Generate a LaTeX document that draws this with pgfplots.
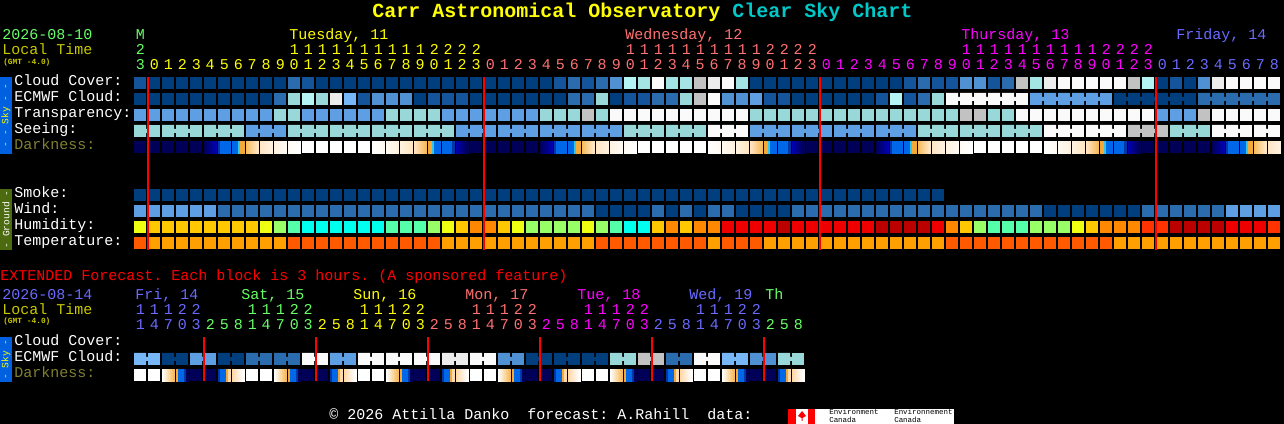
\documentclass[border=0pt]{standalone}
\usepackage{fontspec}
\setmainfont{Liberation Mono}
\usepackage{pgfplots}
\pgfplotsset{compat=1.18}

% cloud / transparency / seeing colours
\definecolor{ca}{HTML}{003E7E}
\definecolor{cb}{HTML}{13549A}
\definecolor{cc}{HTML}{2A6CAE}
\definecolor{cd}{HTML}{4F91D3}
\definecolor{ce}{HTML}{5E9FE3}
\definecolor{cf}{HTML}{77B7F7}
\definecolor{cg}{HTML}{98D8D8}
\definecolor{ch}{HTML}{A4E4E4}
\definecolor{cl}{HTML}{B4F4F4}
\definecolor{ci}{HTML}{C2C2C2}
\definecolor{cj}{HTML}{ECECEC}
\definecolor{ck}{HTML}{FAFAFA}
% humidity / temperature
\definecolor{hy}{HTML}{EEFF11}
\definecolor{hA}{HTML}{FFC800}
\definecolor{hO}{HTML}{FF8800}
\definecolor{hG}{HTML}{99FF66}
\definecolor{hM}{HTML}{55FFAA}
\definecolor{hC}{HTML}{00FFEE}
\definecolor{hR}{HTML}{FF3300}
\definecolor{hD}{HTML}{EE0000}
\definecolor{hK}{HTML}{BB0000}
\definecolor{tR}{HTML}{FF5A00}
\definecolor{tT}{HTML}{FFA000}
% text
\definecolor{dgreen}{HTML}{66FF66}
\definecolor{dyellow}{HTML}{FFFF00}
\definecolor{dsalmon}{HTML}{FF7070}
\definecolor{dmag}{HTML}{FF00FF}
\definecolor{dperi}{HTML}{6A6AFF}
\definecolor{dred}{HTML}{FF0000}
\definecolor{dlocal}{HTML}{C8C800}
\definecolor{dolive}{HTML}{808030}
\definecolor{dcyan}{HTML}{00C8C8}
\definecolor{sideblue}{HTML}{0060E0}
\definecolor{sideolive}{HTML}{4C6A10}
% darkness
\definecolor{nv}{HTML}{000058}
\definecolor{nvb}{HTML}{0000B0}
\definecolor{dkb}{HTML}{0038A8}
\definecolor{bl}{HTML}{0068E8}
\definecolor{cy}{HTML}{30C8E8}
\definecolor{org}{HTML}{F4A838}
\definecolor{org2}{HTML}{F8BC60}
\definecolor{org3}{HTML}{FFD8A8}
\definecolor{cr1}{HTML}{FFE6C4}
\definecolor{cr2}{HTML}{FFF2E0}
\definecolor{cr3}{HTML}{FFFAF4}
\definecolor{pureW}{HTML}{FFFFFF}

% a block is 12 px wide, 1 px = .75 pt
\pgfdeclareplotmark{cell}{\pgfpathrectangle{\pgfpoint{-4.5pt}{-4.5pt}}{\pgfpoint{9pt}{9pt}}\pgfusepathqfill}
\pgfdeclareplotmark{cellj}{\pgfpathrectangle{\pgfpoint{-4.5pt}{-4.5pt}}{\pgfpoint{9pt}{9pt}}\pgfpathrectangle{\pgfpoint{4.5pt}{-1.5pt}}{\pgfpoint{1.5pt}{3pt}}\pgfusepathqfill}
% \fill inside a mark comes out a bit larger than the plain blocks
\tikzset{stp/.style={scale=.965}}
% twilight blocks: 12 one-pixel slices, \shade comes out too small under xdvipdfmx
\newcommand\gradmark[3]{\pgfdeclareplotmark{#1}{\foreach \i in {0,...,11}{\pgfmathtruncatemacro\p{100*\i/11}\fill[stp,#3!\p!#2] ({-4.5pt+\i*0.75pt},-4.5pt) rectangle ({-3.7pt+\i*0.75pt},4.5pt);}}}
\gradmark{dm}{nv}{nvb}
\gradmark{dM}{nvb}{nv}
\gradmark{do}{org2}{cr1}
\gradmark{dO}{cr1}{org2}
\gradmark{dp}{cr1}{cr2}
\gradmark{dP}{cr2}{cr1}
\gradmark{dq}{cr2}{cr3}
\gradmark{dQ}{cr3}{cr2}
\gradmark{dr}{cr3}{pureW}
\gradmark{dR}{pureW}{cr3}
\gradmark{dD}{pureW}{org2}
\gradmark{dG}{org3}{pureW}
% striped blocks, left to right
\pgfdeclareplotmark{dt}{\fill[stp,bl] (-4.5pt,-4.5pt) rectangle (0pt,4.5pt);\fill[stp,cy] (0pt,-4.5pt) rectangle (1.5pt,4.5pt);\fill[stp,org] (1.5pt,-4.5pt) rectangle (4.5pt,4.5pt);}
\pgfdeclareplotmark{dT}{\fill[stp,org] (-4.5pt,-4.5pt) rectangle (-1.5pt,4.5pt);\fill[stp,cy] (-1.5pt,-4.5pt) rectangle (0pt,4.5pt);\fill[stp,bl] (0pt,-4.5pt) rectangle (4.5pt,4.5pt);}
\pgfdeclareplotmark{db}{\fill[stp,dkb] (-4.5pt,-4.5pt) rectangle (-3pt,4.5pt);\fill[stp,bl] (-3pt,-4.5pt) rectangle (4.5pt,4.5pt);}
\pgfdeclareplotmark{dB}{\fill[stp,bl] (-4.5pt,-4.5pt) rectangle (3pt,4.5pt);\fill[stp,dkb] (3pt,-4.5pt) rectangle (4.5pt,4.5pt);}
\pgfdeclareplotmark{dE}{\fill[stp,org] (-4.5pt,-4.5pt) rectangle (-3pt,4.5pt);\fill[stp,bl] (-3pt,-4.5pt) rectangle (1.5pt,4.5pt);\fill[stp,dkb] (1.5pt,-4.5pt) rectangle (3pt,4.5pt);\fill[stp,nv] (3pt,-4.5pt) rectangle (4.5pt,4.5pt);}
\pgfdeclareplotmark{dF}{\fill[stp,dkb] (-4.5pt,-4.5pt) rectangle (-3pt,4.5pt);\fill[stp,bl] (-3pt,-4.5pt) rectangle (1.5pt,4.5pt);\fill[stp,org] (1.5pt,-4.5pt) rectangle (3pt,4.5pt);\fill[stp,org3] (3pt,-4.5pt) rectangle (4.5pt,4.5pt);}

\pgfplotsset{
  blockrow/.style={scatter,only marks,scatter src=explicit symbolic},
  sky/.style={blockrow,scatter/classes={
    a={mark=cell,ca},b={mark=cell,cb},c={mark=cell,cc},d={mark=cell,cd},e={mark=cell,ce},f={mark=cell,cf},
    g={mark=cell,cg},h={mark=cell,ch},l={mark=cell,cl},i={mark=cell,ci},j={mark=cell,cj},k={mark=cell,ck},
    A={mark=cellj,ca},C={mark=cellj,cc},D={mark=cellj,cd},E={mark=cellj,ce},F={mark=cellj,cf},
    G={mark=cellj,cg},I={mark=cellj,ci},J={mark=cellj,cj},K={mark=cellj,ck}}},
  humid/.style={blockrow,scatter/classes={
    y={mark=cell,hy},A={mark=cell,hA},O={mark=cell,hO},G={mark=cell,hG},M={mark=cell,hM},
    C={mark=cell,hC},R={mark=cell,hR},D={mark=cell,hD},K={mark=cell,hK},
    r={mark=cell,tR},t={mark=cell,tT}}},
  dark/.style={blockrow,scatter/classes={
    n={mark=cell,nv},w={mark=cell,pureW},m={mark=dm},M={mark=dM},b={mark=db},B={mark=dB},
    t={mark=dt},T={mark=dT},o={mark=do},O={mark=dO},p={mark=dp},P={mark=dP},q={mark=dq},Q={mark=dQ},
    r={mark=dr},R={mark=dR},D={mark=dD},E={mark=dE},F={mark=dF},G={mark=dG}}},
  midnight/.style={on layer=axis foreground,dred,line width=1.5pt},
  /pgfplots/table/main/.style={row sep=\\,x expr=\coordindex*14+140,meta=c},
  /tikz/txt/.style={anchor=base west,inner sep=0pt,font=\fontsize{11.25pt}{13pt}\selectfont},
  /tikz/side/.style={rotate=90,inner sep=0pt,font=\fontsize{7.2pt}{8pt}\selectfont},
  /tikz/ttl/.style={anchor=base west,inner sep=0pt,font=\fontsize{15pt}{18pt}\selectfont\bfseries},
  /tikz/tiny/.style={anchor=base west,inner sep=0pt,font=\fontsize{5.9pt}{7pt}\selectfont\bfseries},
  /tikz/logo/.style={anchor=base west,inner sep=0pt,font=\fontsize{5.6pt}{6pt}\selectfont,text=black}
}

\makeatletter
\newcommand\hrs[1]{\@tfor\c:=#1\do{\makebox[10.5pt][c]{\c}}}
\makeatother

\begin{document}
\frenchspacing
\begin{tikzpicture}
\begin{axis}[
    width=963pt,height=318pt,scale only axis,
    xmin=0,xmax=1284,ymin=0,ymax=424,y dir=reverse,
    ticks=none,axis line style={draw=none},
    axis background/.style={fill=black},
    set layers=standard,
]
% Cloud Cover
\addplot[sky] table[main,y expr=83] {c\\ b\\ a\\ a\\ a\\ a\\ a\\ a\\ a\\ a\\ a\\ a\\ c\\ b\\ a\\ a\\ a\\ a\\ a\\ a\\ a\\ a\\
 a\\ a\\ a\\ a\\ a\\ a\\ a\\ a\\ a\\ b\\ c\\ b\\ c\\ d\\ l\\ h\\ k\\ h\\ h\\ i\\ j\\ k\\ h\\
 a\\ a\\ a\\ a\\ a\\ a\\ a\\ a\\ a\\ a\\ a\\ b\\ c\\ b\\ b\\ d\\ d\\ b\\ c\\ i\\ h\\ j\\
 k\\ k\\ k\\ k\\ k\\ i\\ l\\ a\\ b\\ a\\ d\\ j\\ k\\ k\\ k\\ k\\ };
% ECMWF Cloud
\addplot[sky] table[main,y expr=99] {c\\ a\\ a\\ a\\ a\\ a\\ a\\ a\\ a\\ a\\ a\\ c\\ g\\ l\\ g\\ j\\ f\\ b\\ d\\ d\\ d\\ a\\
 b\\ b\\ b\\ a\\ a\\ a\\ a\\ a\\ a\\ a\\ c\\ c\\ g\\ a\\ b\\ b\\ c\\ c\\ g\\ i\\ k\\ d\\ d\\ e\\ b\\ b\\ a\\ a\\ a\\ a\\ a\\
 a\\ b\\ l\\ b\\ c\\ g\\
 K\\ K\\ K\\ K\\ K\\ k\\ E\\ E\\ E\\ E\\ E\\ e\\ A\\ A\\ A\\ A\\ A\\ a\\ C\\ C\\ C\\ C\\ C\\ c\\ };
% Transparency
\addplot[sky] table[main,y expr=115] {c\\ e\\ e\\ e\\ e\\ e\\ e\\ e\\ e\\ e\\ e\\ g\\ g\\ e\\ e\\ e\\ e\\ e\\ e\\ g\\ g\\ g\\
 g\\ e\\ e\\ e\\ e\\ e\\ e\\ e\\ g\\ g\\ g\\ i\\ g\\ k\\ k\\ k\\ k\\ k\\ k\\ k\\ k\\ k\\ k\\ g\\ g\\ g\\ g\\ g\\ g\\ g\\ g\\
 g\\ g\\ g\\ g\\ g\\ g\\ g\\ i\\ i\\ g\\ g\\ k\\ k\\ k\\ k\\ k\\ k\\ k\\ k\\ k\\ k\\ e\\ e\\ e\\ i\\ k\\ k\\ k\\ k\\ k\\ };
% Seeing
\addplot[sky] table[main,y expr=131] {c\\ G\\ g\\ G\\ G\\ g\\ G\\ G\\ g\\ E\\ E\\ e\\ G\\ G\\ g\\ G\\ G\\ g\\ G\\ G\\ g\\
 G\\ G\\ g\\ E\\ E\\ e\\ E\\ E\\ e\\ E\\ E\\ e\\ E\\ E\\ e\\ G\\ G\\ g\\ G\\ G\\ g\\ K\\ K\\ k\\
 E\\ E\\ e\\ E\\ E\\ e\\ E\\ E\\ e\\ E\\ E\\ e\\ G\\ G\\ g\\ G\\ G\\ g\\ G\\ G\\ g\\ K\\ K\\ k\\ K\\ K\\ k\\
 I\\ I\\ i\\ G\\ G\\ g\\ K\\ K\\ k\\ K\\ k\\ };
% Darkness
\addplot[dark] table[main,y expr=147] {c\\
 n\\ n\\ n\\ n\\ n\\ m\\ b\\ t\\ o\\ p\\ q\\ r\\ w\\ w\\ w\\ w\\ w\\ R\\ Q\\ P\\ O\\ T\\ B\\ M\\
 n\\ n\\ n\\ n\\ n\\ m\\ b\\ t\\ o\\ p\\ q\\ r\\ w\\ w\\ w\\ w\\ w\\ R\\ Q\\ P\\ O\\ T\\ B\\ M\\
 n\\ n\\ n\\ n\\ n\\ m\\ b\\ t\\ o\\ p\\ q\\ r\\ w\\ w\\ w\\ w\\ w\\ R\\ Q\\ P\\ O\\ T\\ B\\ M\\
 n\\ n\\ n\\ n\\ n\\ m\\ b\\ t\\ o\\ p\\ };
% Smoke
\addplot[sky] table[main,y expr=195] {c\\ a\\ a\\ a\\ a\\ a\\ a\\ a\\ a\\ a\\ a\\ a\\ a\\ a\\ a\\ a\\ a\\ a\\ a\\ a\\ a\\ a\\ a\\ a\\ a\\
 a\\ a\\ a\\ a\\ a\\ a\\ a\\ a\\ a\\ a\\ a\\ a\\ a\\ a\\ a\\ a\\ a\\ a\\ a\\ a\\ a\\ a\\ a\\ a\\ a\\ a\\ a\\ a\\ a\\ a\\ a\\ a\\ a\\ a\\ };
% Wind
\addplot[sky] table[main,y expr=211] {c\\ e\\ e\\ e\\ e\\ e\\ e\\ c\\ c\\ c\\ c\\ c\\ c\\ c\\ c\\ c\\ c\\ c\\ c\\ c\\ c\\ c\\
 c\\ c\\ c\\ c\\ c\\ c\\ c\\ c\\ c\\ c\\ c\\ c\\ a\\ a\\ a\\ a\\ c\\ a\\ c\\ a\\ c\\ c\\ a\\ a\\ a\\ a\\ c\\ c\\ c\\ c\\ c\\
 c\\ c\\ c\\ c\\ c\\ c\\ c\\ c\\ c\\ c\\ c\\ c\\ c\\ a\\ a\\ a\\ a\\ a\\ a\\ a\\ c\\ c\\ c\\ c\\ c\\ c\\ e\\ e\\ e\\ e\\ };
% Humidity
\addplot[humid] table[main,y expr=227] {c\\ y\\ A\\ A\\ A\\ A\\ A\\ A\\ A\\ A\\ y\\ G\\ M\\ C\\ C\\ C\\ C\\ C\\ C\\ M\\ M\\ M\\
 G\\ y\\ A\\ O\\ O\\ A\\ y\\ G\\ G\\ G\\ G\\ y\\ G\\ M\\ C\\ C\\ A\\ O\\ A\\ O\\ O\\ D\\ D\\ D\\ D\\ K\\ D\\ D\\ D\\ D\\ D\\
 D\\ K\\ K\\ K\\ K\\ D\\ O\\ A\\ G\\ M\\ M\\ M\\ G\\ G\\ G\\ y\\ A\\ O\\ O\\ O\\ R\\ R\\ K\\ K\\ K\\ K\\ D\\ D\\ D\\ R\\ };
% Temperature
\addplot[humid] table[main,y expr=243] {c\\ r\\ t\\ t\\ t\\ t\\ t\\ t\\ t\\ t\\ t\\ t\\ r\\ r\\ r\\ r\\ r\\ r\\ r\\ r\\ r\\ r\\
 r\\ t\\ t\\ t\\ t\\ t\\ t\\ t\\ t\\ t\\ t\\ t\\ r\\ r\\ r\\ r\\ r\\ r\\ r\\ r\\ t\\ r\\ r\\ r\\ t\\ t\\ t\\ t\\ t\\ t\\
 t\\ t\\ t\\ t\\ t\\ t\\ t\\ r\\ r\\ r\\ r\\ r\\ r\\ r\\ r\\ r\\ r\\ r\\ r\\ t\\ t\\ t\\ t\\ t\\ t\\ t\\ t\\ t\\ t\\ t\\ t\\ };
% Extended forecast
\addplot[sky] table[main,y expr=359] {c\\ F\\ f\\ A\\ a\\ E\\ e\\ A\\ a\\ C\\ c\\ C\\ c\\ K\\ k\\ E\\ e\\ K\\ k\\ K\\ k\\ K\\ k\\
 J\\ j\\ K\\ k\\ D\\ d\\ A\\ a\\ A\\ a\\ A\\ a\\ G\\ g\\ I\\ i\\ C\\ c\\ K\\ k\\ F\\ f\\ D\\ d\\ G\\ g\\ };
\addplot[dark] table[main,y expr=375] {c\\
 w\\ w\\ D\\ E\\ n\\ n\\ F\\ G\\ w\\ w\\ D\\ E\\ n\\ n\\ F\\ G\\ w\\ w\\ D\\ E\\ n\\ n\\ F\\ G\\
 w\\ w\\ D\\ E\\ n\\ n\\ F\\ G\\ w\\ w\\ D\\ E\\ n\\ n\\ F\\ G\\ w\\ w\\ D\\ E\\ n\\ n\\ F\\ G\\ };
% midnight lines
\addplot[midnight] coordinates {(148,77) (148,250)};
\addplot[midnight] coordinates {(484,77) (484,250)};
\addplot[midnight] coordinates {(820,77) (820,250)};
\addplot[midnight] coordinates {(1156,77) (1156,250)};
\addplot[midnight] coordinates {(204,337) (204,381)};
\addplot[midnight] coordinates {(316,337) (316,381)};
\addplot[midnight] coordinates {(428,337) (428,381)};
\addplot[midnight] coordinates {(540,337) (540,381)};
\addplot[midnight] coordinates {(652,337) (652,381)};
\addplot[midnight] coordinates {(764,337) (764,381)};

% title
\node[ttl,text=dyellow] at (axis cs:372,18) {Carr Astronomical Observatory};
\node[ttl,text=dcyan] at (axis cs:732,18) {Clear Sky Chart};

% header
\node[txt,text=dgreen] at (axis cs:2,40) {2026-08-10};
\node[txt,text=dlocal] at (axis cs:2,55) {Local Time};
\node[tiny,text=dlocal] at (axis cs:3,65) {(GMT -4.0)};
\node[txt,text=dgreen] at (axis cs:133,40) {\hrs{M}};
\node[txt,text=dyellow] at (axis cs:289,40) {Tuesday, 11};
\node[txt,text=dsalmon] at (axis cs:625,40) {Wednesday, 12};
\node[txt,text=dmag] at (axis cs:961,40) {Thursday, 13};
\node[txt,text=dperi] at (axis cs:1176,40) {Friday, 14};
\node[txt,text=dgreen] at (axis cs:133,55) {\hrs{2}};
\node[txt,text=dyellow] at (axis cs:287,55) {\hrs{11111111112222}};
\node[txt,text=dsalmon] at (axis cs:623,55) {\hrs{11111111112222}};
\node[txt,text=dmag] at (axis cs:959,55) {\hrs{11111111112222}};
\node[txt,text=dgreen] at (axis cs:133,70) {\hrs{3}};
\node[txt,text=dyellow] at (axis cs:147,70) {\hrs{012345678901234567890123}};
\node[txt,text=dsalmon] at (axis cs:483,70) {\hrs{012345678901234567890123}};
\node[txt,text=dmag] at (axis cs:819,70) {\hrs{012345678901234567890123}};
\node[txt,text=dperi] at (axis cs:1155,70) {\hrs{012345678}};

% row labels
\node[txt,text=white] at (axis cs:14,86) {Cloud Cover:};
\node[txt,text=white] at (axis cs:14,102) {ECMWF Cloud:};
\node[txt,text=white] at (axis cs:14,118) {Transparency:};
\node[txt,text=white] at (axis cs:14,134) {Seeing:};
\node[txt,text=dolive] at (axis cs:14,150) {Darkness:};
\node[txt,text=white] at (axis cs:14,198) {Smoke:};
\node[txt,text=white] at (axis cs:14,214) {Wind:};
\node[txt,text=white] at (axis cs:14,230) {Humidity:};
\node[txt,text=white] at (axis cs:14,246) {Temperature:};

% side bars
\fill[sideblue] (axis cs:0,77) rectangle (axis cs:12,154);
\node[side,text=dyellow] at (axis cs:6,115.5) {- - Sky - -};
\fill[sideolive] (axis cs:0,189) rectangle (axis cs:12,250);
\node[side,text=white] at (axis cs:6,219.5) {- Ground -};
\fill[sideblue] (axis cs:0,337) rectangle (axis cs:12,382);
\node[side,text=dyellow] at (axis cs:6,359.5) {- Sky -};

% extended header
\node[txt,text=dred] at (axis cs:0,281) {EXTENDED Forecast. Each block is 3 hours. (A sponsored feature)};
\node[txt,text=dperi] at (axis cs:2,300) {2026-08-14};
\node[txt,text=dlocal] at (axis cs:2,315) {Local Time};
\node[tiny,text=dlocal] at (axis cs:3,324) {(GMT -4.0)};
\node[txt,text=dperi] at (axis cs:135,300) {Fri, 14};
\node[txt,text=dgreen] at (axis cs:241,300) {Sat, 15};
\node[txt,text=dyellow] at (axis cs:353,300) {Sun, 16};
\node[txt,text=dsalmon] at (axis cs:465,300) {Mon, 17};
\node[txt,text=dmag] at (axis cs:577,300) {Tue, 18};
\node[txt,text=dperi] at (axis cs:689,300) {Wed, 19};
\node[txt,text=dgreen] at (axis cs:765,300) {Th};
\node[txt,text=dperi] at (axis cs:133,315) {\hrs{11122}};
\node[txt,text=dgreen] at (axis cs:245,315) {\hrs{11122}};
\node[txt,text=dyellow] at (axis cs:357,315) {\hrs{11122}};
\node[txt,text=dsalmon] at (axis cs:469,315) {\hrs{11122}};
\node[txt,text=dmag] at (axis cs:581,315) {\hrs{11122}};
\node[txt,text=dperi] at (axis cs:693,315) {\hrs{11122}};
\node[txt,text=dperi] at (axis cs:133,330) {\hrs{14703}};
\node[txt,text=dgreen] at (axis cs:203,330) {\hrs{25814703}};
\node[txt,text=dyellow] at (axis cs:315,330) {\hrs{25814703}};
\node[txt,text=dsalmon] at (axis cs:427,330) {\hrs{25814703}};
\node[txt,text=dmag] at (axis cs:539,330) {\hrs{25814703}};
\node[txt,text=dperi] at (axis cs:651,330) {\hrs{25814703}};
\node[txt,text=dgreen] at (axis cs:763,330) {\hrs{258}};
\node[txt,text=white] at (axis cs:14,346) {Cloud Cover:};
\node[txt,text=white] at (axis cs:14,362) {ECMWF Cloud:};
\node[txt,text=dolive] at (axis cs:14,378) {Darkness:};

% footer
\node[txt,text=white] at (axis cs:329,420) {©~2026~Attilla~Danko~~forecast:~A.Rahill~~data:};
\fill[white] (axis cs:788,409) rectangle (axis cs:954,424);
\fill[dred] (axis cs:788,409) rectangle (axis cs:796,424);
\fill[dred] (axis cs:808,409) rectangle (axis cs:815,424);
\fill[dred] (axis cs:802,411) -- (axis cs:806,416) -- (axis cs:802.5,418) -- (axis cs:802.5,421) -- (axis cs:801.5,421) -- (axis cs:801.5,418) -- (axis cs:798,416) -- cycle;
\node[logo] at (axis cs:829,415) {Environment};
\node[logo] at (axis cs:829,423) {Canada};
\node[logo] at (axis cs:894,415) {Environnement};
\node[logo] at (axis cs:894,423) {Canada};
\end{axis}
\end{tikzpicture}
\end{document}
